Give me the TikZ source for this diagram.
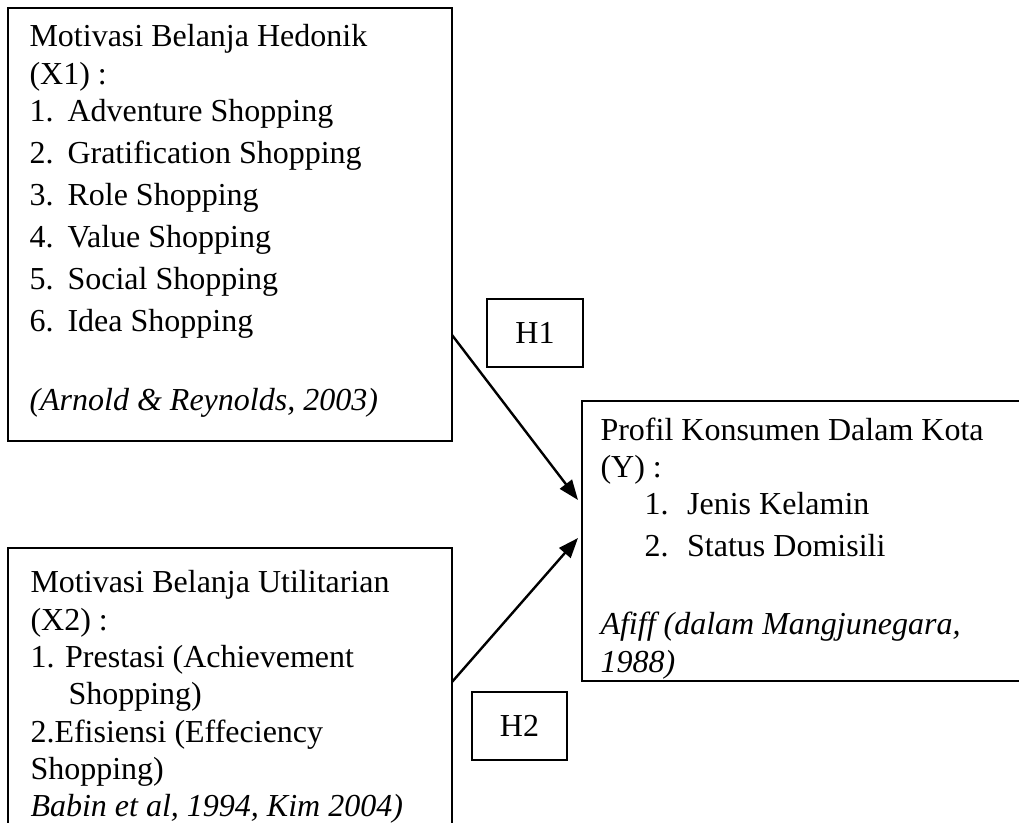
\documentclass[tikz,border=0pt]{standalone}
\usepackage{fontspec}
\setmainfont{Liberation Serif}
\usepackage{tikz}
\usetikzlibrary{arrows.meta,positioning,calc}
\newcommand{\px}{0.375pt}
\newcommand{\itm}[2]{\makebox[14.25pt][l]{#1}#2}
\newcommand{\yitm}[2]{\hspace*{16.5pt}\makebox[16pt][l]{#1}#2}
\tikzset{
  boks/.style={draw,line width=0.75pt,inner sep=0pt,outer sep=0pt,anchor=north west},
  txt/.style ={align=left,inner sep=0pt,anchor=north west,font=\fontsize{12}{14}\selectfont},
  hyp/.style ={draw,line width=0.75pt,inner sep=0pt,outer sep=0pt,anchor=north west,
               minimum height=68*\px,font=\fontsize{12}{14}\selectfont},
  ar/.style={-{Triangle[length=7.5pt,width=5.6pt]},line width=0.9pt},
}
\begin{document}
\begin{tikzpicture}[x=\px,y=-\px]
  \useasboundingbox (0,0) rectangle (1019,823);
  \clip (0,0) rectangle (1019,823);
  \node[boks,minimum width=444*\px,minimum height=433*\px] (x1) at (8,8) {};
  \node[boks,minimum width=444*\px,minimum height=290*\px] (x2) at (8,548) {};
  \node[boks,minimum width=450*\px,minimum height=280*\px] (yb) at (582,401) {};
  \node[hyp,minimum width=96*\px] (h1) at (487,299) {H1};
  \node[hyp,minimum width=95*\px] (h2) at (472,692) {H2};
  \node[txt] (x1t) at ($(x1.north west)+(21,16)$) {Motivasi Belanja Hedonik\\
    (X1) :\\
    \itm{1.}{Adventure Shopping}\\[1.75pt]
    \itm{2.}{Gratification Shopping}\\[1.75pt]
    \itm{3.}{Role Shopping}\\[1.75pt]
    \itm{4.}{Value Shopping}\\[1.75pt]
    \itm{5.}{Social Shopping}\\[1.75pt]
    \itm{6.}{Idea Shopping}\\[15.8pt]
    \textit{(Arnold \& Reynolds, 2003)}};
  \node[txt] (x2t) at ($(x2.north west)+(22,22)$) {Motivasi Belanja Utilitarian\\
    (X2) :\\
    1. Prestasi (Achievement\\
    \hspace*{14.25pt}Shopping)\\
    2.Efisiensi (Effeciency\\
    Shopping)\\
    \textit{Babin et al, 1994, Kim 2004)}};
  \node[txt] (yt) at ($(yb.north west)+(18,16)$) {Profil Konsumen Dalam Kota\\
    (Y) :\\
    \yitm{1.}{Jenis Kelamin}\\[1.75pt]
    \yitm{2.}{Status Domisili}\\[15.25pt]
    \textit{Afiff (dalam Mangjunegara,}\\
    \textit{1988)}};
  \draw[ar] ($(x1.north east)+(0,327)$) -- ($(yb.north west)+(-4,99)$);
  \draw[ar] ($(x2.north east)+(0,134)$) -- ($(yb.north west)+(-4,137)$);
\end{tikzpicture}
\end{document}
